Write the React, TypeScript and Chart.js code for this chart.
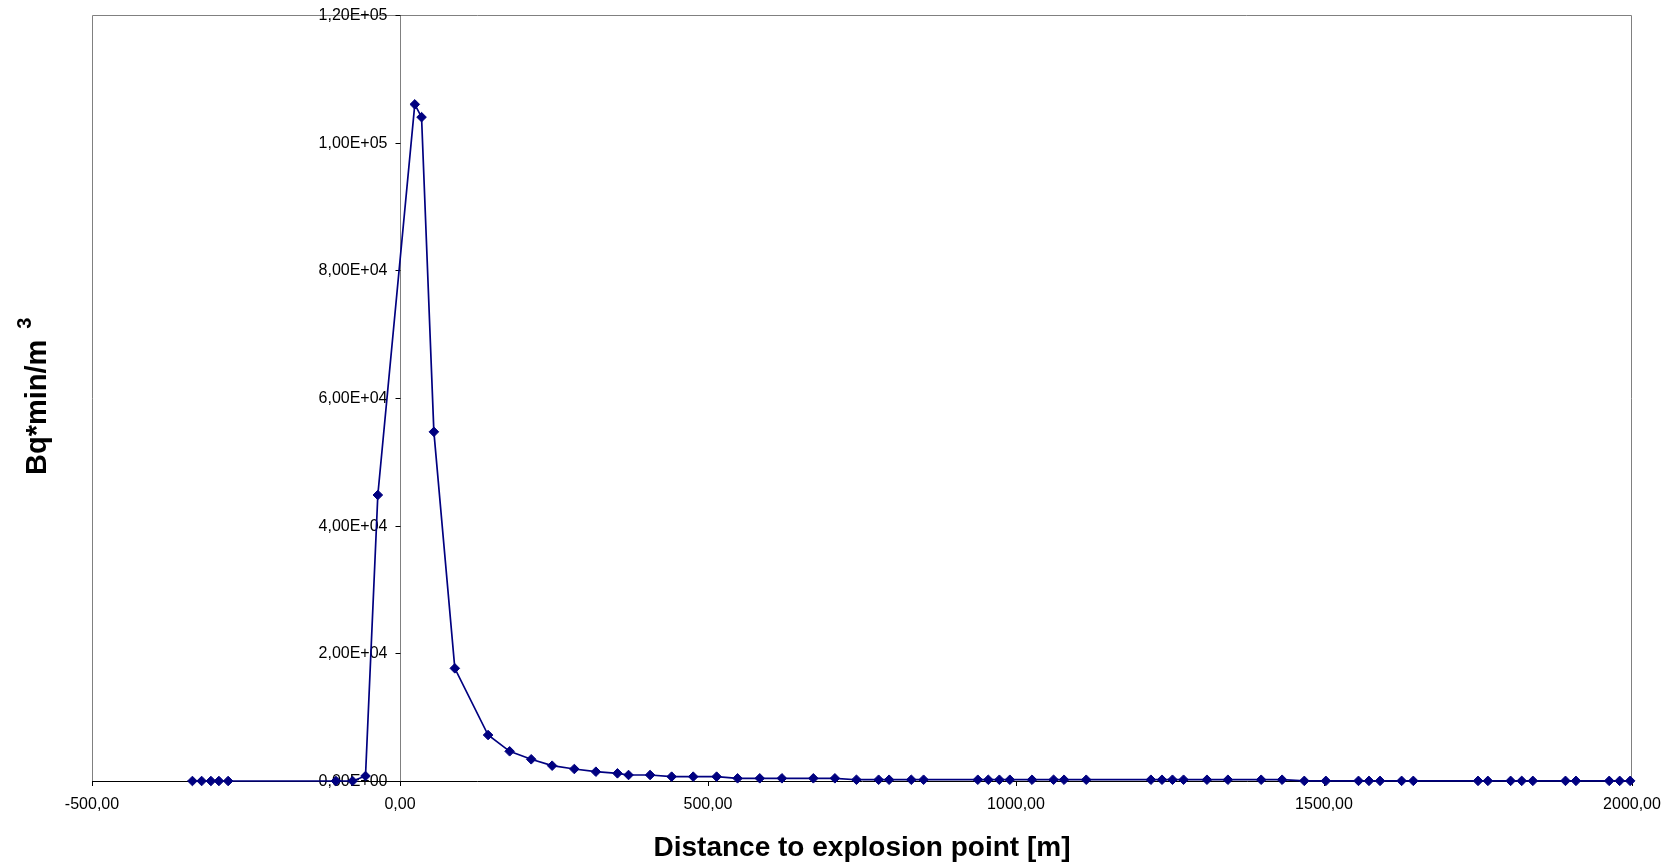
import React, { useEffect, useRef } from 'react';
import { Chart, registerables } from 'chart.js';

Chart.register(...registerables);

// Distance to the explosion point [m]
const distanceM = [
  -337, -322, -307, -294, -279, -104, -77, -56, -36, 24, 35, 55, 89, 143, 178,
  213, 247, 283, 318, 353, 371, 406, 441, 476, 514, 548, 584, 620, 671, 706,
  741, 777, 794, 830, 850, 938, 955, 973, 990, 1026, 1061, 1078, 1114, 1219,
  1237, 1254, 1272, 1310, 1344, 1398, 1432, 1468, 1503, 1556, 1573, 1591, 1626,
  1645, 1750, 1766, 1803, 1821, 1839, 1892, 1909, 1963, 1980, 1997,
];

// Time-integrated air concentration [Bq*min/m3]
const concentration = [
  0, 0, 0, 0, 0, 0, 0, 780, 44800, 106000, 104000, 54700, 17650, 7200, 4650,
  3400, 2400, 1880, 1460, 1200, 940, 940, 680, 680, 680, 420, 420, 420, 420, 420,
  200, 200, 200, 200, 200, 200, 200, 200, 200, 200, 200, 200, 200, 200,
  200, 200, 200, 200, 200, 200, 200, 20, 20, 20, 20, 20, 20,
  20, 20, 20, 20, 20, 20, 20, 20, 20, 20, 20,
];

const xRange = [-500, 2000];
const xStep = 500;
const yRange = [0, 120000];
const yStep = 20000;

const xTitle = 'Distance to explosion point [m]';
const yTitle = 'Bq*min/m';
const yTitleSup = '3';

const FONT = '"Liberation Sans", Arial, sans-serif';
const NAVY = '#000080';

function fmtExp(v: number): string {
  const [m, e] = v.toExponential(2).split('e');
  const n = parseInt(e, 10);
  return m.replace('.', ',') + 'E' + (n < 0 ? '-' : '+') + String(Math.abs(n)).padStart(2, '0');
}

function fmtFixed(v: number): string {
  return v.toFixed(2).replace('.', ',');
}

// Gray frame around the plot area plus the value axis crossing at x = 0
const framePlugin = {
  id: 'plotFrame',
  beforeDatasetsDraw(chart: any) {
    const { ctx, chartArea: a, scales } = chart;
    const xs = scales.x;
    const ys = scales.y;
    ctx.save();
    ctx.strokeStyle = '#808080';
    ctx.lineWidth = 1;
    ctx.beginPath();
    ctx.moveTo(a.left + 0.5, a.bottom);
    ctx.lineTo(a.left + 0.5, a.top + 0.5);
    ctx.lineTo(a.right - 0.5, a.top + 0.5);
    ctx.lineTo(a.right - 0.5, a.bottom);
    ctx.stroke();

    // value axis at x = 0
    const ax = Math.round(xs.getPixelForValue(0)) + 0.5;
    ctx.beginPath();
    ctx.moveTo(ax, a.top);
    ctx.lineTo(ax, a.bottom);
    ctx.stroke();

    // ticks and labels of the value axis
    ctx.strokeStyle = '#000';
    ctx.fillStyle = '#000';
    ctx.font = `16px ${FONT}`;
    ctx.textAlign = 'right';
    ctx.textBaseline = 'middle';
    for (const t of ys.ticks) {
      const py = Math.round(ys.getPixelForValue(t.value)) + 0.5;
      ctx.beginPath();
      ctx.moveTo(ax - 5, py);
      ctx.lineTo(ax, py);
      ctx.stroke();
      ctx.fillText(fmtExp(t.value), ax - 13, py);
    }
    ctx.restore();
  },
};

// Rotated y-axis title with a superscript exponent
const yTitlePlugin = {
  id: 'yTitleSup',
  afterDraw(chart: any) {
    const { ctx } = chart;
    ctx.save();
    ctx.translate(46, 475);
    ctx.rotate(-Math.PI / 2);
    ctx.fillStyle = '#000';
    ctx.textBaseline = 'alphabetic';
    ctx.textAlign = 'left';
    ctx.font = `bold 29px ${FONT}`;
    ctx.fillText(yTitle, 0, 0);
    const w = ctx.measureText(yTitle).width;
    ctx.font = `bold 20px ${FONT}`;
    ctx.fillText(yTitleSup, w + 11, -15);
    ctx.restore();
  },
};

export default function App() {
  const canvasRef = useRef<HTMLCanvasElement>(null);

  useEffect(() => {
    const canvas = canvasRef.current;
    if (!canvas) return;
    const points = distanceM.map((x, i) => ({ x, y: concentration[i] }));

    const chart = new Chart(canvas, {
      type: 'scatter',
      data: {
        datasets: [
          {
            data: points,
            showLine: true,
            borderColor: NAVY,
            backgroundColor: NAVY,
            borderWidth: 1.7,
            pointStyle: 'rectRot',
            pointRadius: 4.8,
            pointBorderWidth: 1,
            pointBorderColor: NAVY,
            pointBackgroundColor: NAVY,
            clip: false,
          } as any,
        ],
      },
      options: {
        animation: false,
        responsive: false,
        devicePixelRatio: 1,
        layout: { padding: { left: 92, top: 15, right: 42, bottom: 0 } },
        plugins: {
          legend: { display: false },
          tooltip: { enabled: false },
        },
        scales: {
          x: {
            type: 'linear',
            position: 'bottom',
            min: xRange[0],
            max: xRange[1],
            afterFit(scale: any) {
              scale.height = 87;
            },
            ticks: {
              stepSize: xStep,
              color: '#000',
              font: { family: FONT, size: 16 },
              padding: 9,
              maxRotation: 0,
              callback: (v: any) => fmtFixed(Number(v)),
            },
            grid: {
              drawOnChartArea: false,
              drawTicks: true,
              tickLength: 5,
              color: '#000',
            },
            border: { display: true, color: '#000', width: 1 },
            title: {
              display: true,
              text: xTitle,
              color: '#000',
              font: { family: FONT, size: 28, weight: 'bold' },
              padding: { top: 0, bottom: 3 },
            },
          },
          y: {
            type: 'linear',
            display: false,
            min: yRange[0],
            max: yRange[1],
            ticks: { stepSize: yStep },
          },
        },
      },
      plugins: [framePlugin, yTitlePlugin],
    });

    return () => chart.destroy();
  }, []);

  return (
    <div style={{ position: 'fixed', left: 0, top: 0, width: 1674, height: 868, background: '#fff' }}>
      <canvas ref={canvasRef} width={1674} height={868} />
    </div>
  );
}
